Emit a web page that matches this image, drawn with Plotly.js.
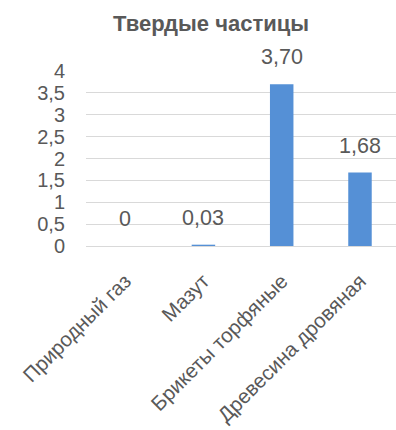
<!DOCTYPE html>
<html>
<head>
<meta charset="utf-8">
<script src="https://cdn.plot.ly/plotly-3.0.1.min.js"></script>
<style>
  html, body { margin: 0; padding: 0; background: #ffffff; }
  #chart { width: 396px; height: 430px; }
</style>
</head>
<body>
<div id="chart"></div>
<script>
// Fuel types and particulate matter emissions
const fuels = ["Природный газ", "Мазут", "Брикеты торфяные", "Древесина дровяная"];
const particulates = [0, 0.03, 3.70, 1.68];
const yTicks = [0, 0.5, 1, 1.5, 2, 2.5, 3, 3.5, 4];

const textColor = "#595959";
const fontFamily = "Liberation Sans, Arial, sans-serif";

// Labels in Russian number format: zero shown bare, others with two decimals
const valueLabels = particulates.map(v => v === 0 ? "0" : v.toFixed(2).replace(".", ","));

const trace = {
  type: "bar",
  x: fuels,
  y: particulates,
  marker: { color: "#5590D6" },
  hoverinfo: "skip"
};

// Value labels sit a little above each bar top
const valueAnnotations = fuels.map((f, i) => ({
  x: f,
  y: particulates[i],
  xref: "x",
  yref: "y",
  text: valueLabels[i],
  showarrow: false,
  xanchor: "center",
  yanchor: "bottom",
  yshift: 13,
  font: { family: fontFamily, size: 21.5, color: textColor }
}));

const layout = {
  width: 396,
  height: 430,
  margin: { l: 86, r: 0, t: 71, b: 184 },
  paper_bgcolor: "#ffffff",
  plot_bgcolor: "#ffffff",
  separators: ", ",
  showlegend: false,
  bargap: 0.7,
  annotations: valueAnnotations,
  title: {
    text: "<b>Твердые частицы</b>",
    font: { family: fontFamily, size: 22, color: textColor },
    xref: "container", x: 0.533, xanchor: "center",
    yref: "container", y: 1 - 23 / 430, yanchor: "middle"
  },
  xaxis: {
    type: "category",
    range: [-0.5, 3.46],
    tickangle: -45,
    tickfont: { family: fontFamily, size: 20.5, color: textColor },
    showgrid: false,
    showline: true,
    linecolor: "#d9d9d9",
    linewidth: 1,
    ticks: "",
    ticklabelstandoff: 14,
    fixedrange: true
  },
  yaxis: {
    range: [0, 4],
    tickvals: yTicks,
    tickformat: ".1~f",
    tickfont: { family: fontFamily, size: 20, color: textColor },
    showgrid: true,
    gridcolor: "#d9d9d9",
    gridwidth: 1,
    zeroline: false,
    showline: false,
    ticks: "",
    ticklabelstandoff: 20,
    fixedrange: true
  }
};

Plotly.newPlot("chart", [trace], layout, { displayModeBar: false, staticPlot: true });
</script>
</body>
</html>
